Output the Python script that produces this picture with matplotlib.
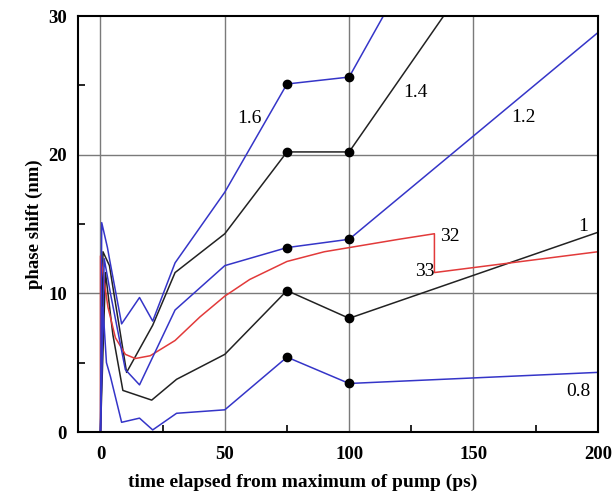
import matplotlib
matplotlib.use("Agg")
import matplotlib.pyplot as plt

# curves (time in ps, phase shift in nm)
t_16 = [0, 0.5, 2.8, 3.6, 8.5, 15.7, 21, 30, 50, 75, 100, 120]
p_16 = [0, 15.1, 13.3, 12.5, 7.8, 9.7, 8.0, 12.2, 17.3, 25.1, 25.6, 32.0]

t_14 = [0, 1, 3.6, 10.5, 21, 30, 50, 75, 100, 150]
p_14 = [0, 13.0, 12.0, 4.3, 7.7, 11.5, 14.3, 20.2, 20.2, 33.1]

t_12 = [0, 1.5, 4, 10, 15.7, 30, 50, 75, 100, 200]
p_12 = [0, 12.5, 10.0, 4.5, 3.4, 8.8, 12.0, 13.3, 13.9, 28.8]

t_10 = [0, 2, 5, 9, 20.6, 30.6, 50, 75, 100, 200]
p_10 = [0, 11.5, 7.0, 3.0, 2.3, 3.8, 5.6, 10.2, 8.2, 14.4]

t_08 = [0, 1, 2.4, 4, 8.5, 15.7, 21, 30.6, 50, 75, 100, 200]
p_08 = [0, 9.0, 5.0, 4.0, 0.7, 1.0, 0.15, 1.35, 1.6, 5.4, 3.5, 4.3]

t_red = [0, 0, 1, 3, 6, 10, 14, 20, 30, 40, 50, 60, 75, 90, 100, 120, 134.3, 134.3, 200]
p_red = [0, 12.7, 11.5, 9.0, 6.8, 5.6, 5.3, 5.5, 6.6, 8.3, 9.8, 11.0, 12.3, 13.0, 13.3, 13.9, 14.3, 11.5, 13.0]

# measured points (black dots)
dot_t = [75, 100]
dots = {"1.6": [25.1, 25.6], "1.4": [20.2, 20.2], "1.2": [13.3, 13.9],
        "1": [10.2, 8.2], "0.8": [5.4, 3.5]}

labels = ["1.6", "1.4", "1.2", "32", "33", "1", "0.8"]
label_t = [60, 126.6, 170, 140.7, 130.6, 194, 192]
label_p = [22.6, 24.5, 22.7, 14.1, 11.6, 14.8, 2.9]

blue = "#3535c8"
black = "#222222"
red = "#e23a3a"

fig = plt.figure(figsize=(6.15, 4.94), dpi=100)
ax = fig.add_axes([0.127, 0.1255, 0.845, 0.842])

ax.plot(t_14, p_14, color=black, lw=1.1)
ax.plot(t_10, p_10, color=black, lw=1.1)
ax.plot(t_red, p_red, color=red, lw=1.1)
ax.plot(t_12, p_12, color=blue, lw=1.1)
ax.plot(t_08, p_08, color=blue, lw=1.1)
ax.plot(t_16, p_16, color=blue, lw=1.1)

for k in dots:
    ax.plot(dot_t, dots[k], "o", color="black", ms=6, zorder=5)

for s, x, y in zip(labels, label_t, label_p):
    ax.text(x, y, s, fontsize=14, family="Liberation Serif", ha="center", va="center")

ax.set_xlim(-9, 200)
ax.set_ylim(0, 30)
ax.set_xticks([0, 50, 100, 150, 200])
ax.set_yticks([0, 10, 20, 30])
ax.set_xticks([25, 75, 125, 175], minor=True)
ax.set_yticks([5, 15, 25], minor=True)
ax.tick_params(which="both", direction="in", length=5, width=1.2, color="black")
ax.tick_params(which="major", length=0)
ax.tick_params(axis="x", which="major", pad=10)
ax.tick_params(axis="y", which="major", pad=8)

for v in [0, 50, 100, 150]:
    ax.axvline(v, color="#7a7a7a", lw=1, zorder=0)
for v in [10, 20]:
    ax.axhline(v, color="#7a7a7a", lw=1, zorder=0)

for sp in ax.spines.values():
    sp.set_linewidth(1.5)

for lab in ax.get_xticklabels() + ax.get_yticklabels():
    lab.set_family("Liberation Serif")
    lab.set_fontweight("bold")
    lab.set_fontsize(13.5)

ax.set_xlabel("time elapsed from maximum of pump (ps)", family="Liberation Serif",
              fontweight="bold", fontsize=14, labelpad=8)
ax.xaxis.set_label_coords(0.433, -0.1)
ax.xaxis.label.set_va("top")
ax.set_ylabel("phase shift (nm)", family="Liberation Serif",
              fontweight="bold", fontsize=13.5, labelpad=4)

fig.savefig("out.png", dpi=100)
